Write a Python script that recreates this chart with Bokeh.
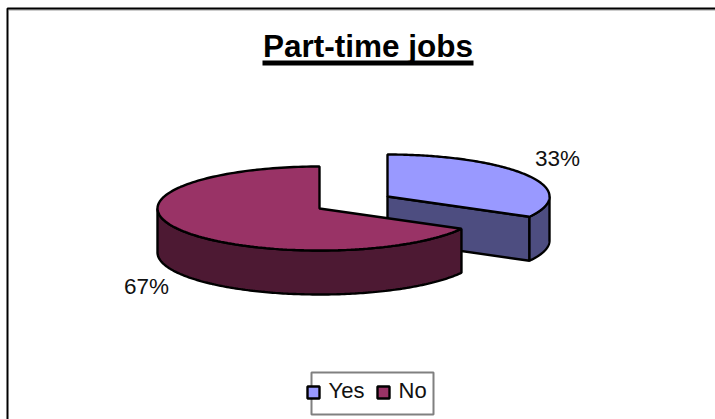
import numpy as np
from bokeh.plotting import figure
from bokeh.embed import file_html
from bokeh.resources import INLINE
from bokeh.models import Range1d
from bokeh.core.properties import value

categories = ["Yes", "No"]
shares = [33, 67]
labels = ["33%", "67%"]
title_text = "Part-time jobs"
top_colors = ["#9999FF", "#993366"]
side_colors = ["#4D4D80", "#4D1933"]

W, H = 715, 419
p = figure(width=W, height=H, toolbar_location=None, output_backend="svg",
           x_range=Range1d(0, W), y_range=Range1d(H, 0), min_border=0,
           background_fill_color="white", border_fill_color="white", outline_line_color=None)
p.axis.visible = False
p.grid.visible = False

FONT = value("Liberation Sans")
RX, RY, DEPTH = 162, 42, 44
LW = 2.4

# frame: only the top and left edges are visible
p.line([8.5, 715], [9.5, 9.5], line_color="#999999", line_width=1)
p.line([7, 7, 715], [419, 8, 8], line_color="black", line_width=2)


def arc(cx, cy, a0, a1, n=160):
    t = np.linspace(a0, a1, n)
    return cx + RX * np.cos(t), cy - RY * np.sin(t)


total = sum(shares)
a_start = np.pi / 2
a_cut = a_start - 2 * np.pi * shares[0] / total
a_end = a_cut - 2 * np.pi * shares[1] / total

# Yes slice, pulled out to the right and drawn first
cx_y, cy_y = 387, 196
ex, ey = arc(cx_y, cy_y, a_cut, a_cut, 1)
p.patch([cx_y, ex[0], ex[0], cx_y], [cy_y, ey[0], ey[0] + DEPTH, cy_y + DEPTH],
        fill_color=side_colors[0], line_color="black", line_width=LW)
rx, ry = arc(cx_y, cy_y, 0, a_cut)
p.patch(np.r_[rx, rx[::-1]], np.r_[ry, ry[::-1] + DEPTH],
        fill_color=side_colors[0], line_color="black", line_width=LW)
x, y = arc(cx_y, cy_y, a_start, a_cut)
p.patch(np.r_[cx_y, x], np.r_[cy_y, y], fill_color=top_colors[0],
        line_color="black", line_width=LW)

# No slice
cx_n, cy_n = 319, 208
rx, ry = arc(cx_n, cy_n, -np.pi, a_cut)
p.patch(np.r_[rx, rx[::-1]], np.r_[ry, ry[::-1] + DEPTH],
        fill_color=side_colors[1], line_color="black", line_width=LW)
x, y = arc(cx_n, cy_n, a_cut, a_end)
p.patch(np.r_[cx_n, x], np.r_[cy_n, y], fill_color=top_colors[1],
        line_color="black", line_width=LW)

# title with underline
p.text([367.5], [45.5], text=[title_text], text_font=FONT, text_font_style="bold",
       text_font_size="31.5px", text_align="center", text_baseline="alphabetic",
       text_color="black")
p.line([262, 473], [62.5, 62.5], line_color="black", line_width=5)

# data labels
p.text([557, 146], [158, 286], text=labels, text_font=FONT, text_font_size="22.5px",
       text_align="center", text_baseline="alphabetic", text_color="#111111")

# legend
p.patch([311, 433, 433, 311], [372, 372, 414, 414], fill_alpha=0,
        line_color="#808080", line_width=2)
p.scatter([313, 383], [392, 392], size=12, marker="square", fill_color=top_colors,
          line_color="black", line_width=2.4)
p.text([328, 398], [390, 390], text=categories, text_font=FONT, text_font_size="22px",
       text_align="left", text_baseline="alphabetic", text_color="#111111")

open("out.html", "w").write(file_html(p, INLINE))
